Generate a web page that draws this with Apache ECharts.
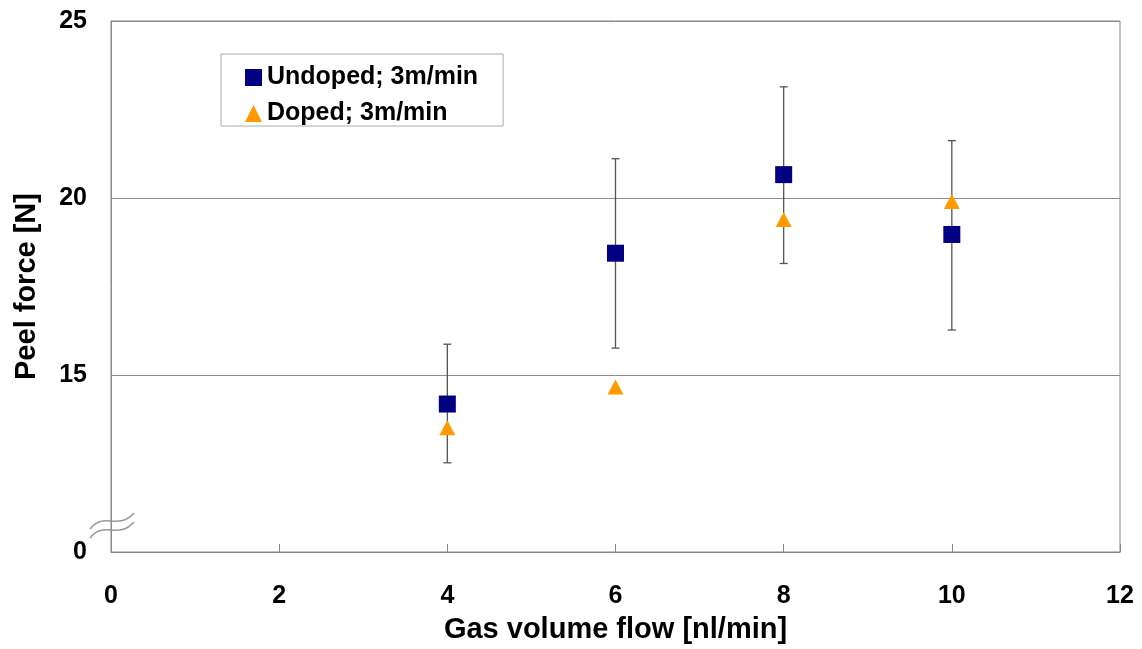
<!DOCTYPE html>
<html>
<head>
<meta charset="utf-8">
<script src="https://cdn.jsdelivr.net/npm/echarts@6/dist/echarts.min.js"></script>
<style>
  html, body { margin: 0; padding: 0; background: #fff; }
  #echarts { width: 1142px; height: 649px; }
</style>
</head>
<body>
<div id="echarts"></div>
<script>
// gas volume flow [nl/min]
var flowValues = [4, 6, 8, 10];
// peel force [N]
var undopedForce = [14.18, 18.44, 20.66, 18.97];
var undopedLow = [12.52, 15.76, 18.15, 16.27];
var undopedHigh = [15.87, 21.11, 23.14, 21.62];
var dopedForce = [13.51, 14.66, 19.39, 19.9];
// y axis is broken: the bottom tick is shown as "0"
var yTickLabels = { 10: '0', 15: '15', 20: '20', 25: '25' };
var xTicks = [0, 2, 4, 6, 8, 10, 12];

var fontName = '"Liberation Sans", Arial, sans-serif';

var undopedData = [];
var dopedData = [];
var errData = [];
flowValues.forEach(function (x, i) {
    undopedData.push([x, undopedForce[i]]);
    dopedData.push([x, dopedForce[i]]);
    errData.push([x, undopedLow[i], undopedHigh[i]]);
});

var myChart = echarts.init(document.getElementById('echarts'));

var option = {
    backgroundColor: '#fff',
    animation: false,
    textStyle: { fontFamily: fontName },
    grid: {
        left: 111,
        right: 22,
        top: 21,
        bottom: 94,
        show: true,
        borderColor: '#888',
        borderWidth: 1
    },
    legend: {
        data: ['Undoped; 3m/min', 'Doped; 3m/min'],
        orient: 'vertical',
        left: 221,
        top: 54,
        padding: [11, 25, 0, 24],
        itemGap: 11,
        itemWidth: 17,
        itemHeight: 17,
        backgroundColor: '#fff',
        borderColor: '#aaa',
        borderWidth: 1,
        textStyle: {
            fontFamily: fontName,
            fontSize: 25,
            fontWeight: 'bold',
            color: '#000',
            lineHeight: 24
        }
    },
    xAxis: {
        type: 'value',
        min: 0,
        max: 12,
        interval: 2,
        name: 'Gas volume flow [nl/min]',
        nameLocation: 'middle',
        nameGap: 63,
        nameTextStyle: { fontSize: 29, fontWeight: 'bold', color: '#000', fontFamily: fontName },
        axisLine: { lineStyle: { color: '#888', width: 1 } },
        axisTick: { inside: true, length: 8, lineStyle: { color: '#888' } },
        axisLabel: {
            fontSize: 25, fontWeight: 'bold', color: '#000', margin: 32,
            formatter: function (v) { return xTicks.indexOf(v) >= 0 ? String(v) : ''; }
        },
        splitLine: { show: false }
    },
    yAxis: {
        type: 'value',
        min: 10,
        max: 25,
        interval: 5,
        name: 'Peel force [N]',
        nameLocation: 'middle',
        nameGap: 70,
        nameTextStyle: { fontSize: 29, fontWeight: 'bold', color: '#000', fontFamily: fontName },
        axisLine: { show: true, lineStyle: { color: '#888', width: 1 } },
        axisTick: { show: false },
        axisLabel: {
            fontSize: 25, fontWeight: 'bold', color: '#000', margin: 24,
            formatter: function (v) { return yTickLabels[v] || ''; }
        },
        splitLine: { show: true, lineStyle: { color: '#8c8c8c', width: 1 } }
    },
    series: [
        {
            type: 'custom',
            name: 'err',
            z: 1,
            silent: true,
            data: errData,
            renderItem: function (params, api) {
                var x = api.value(0);
                var lo = api.coord([x, api.value(1)]);
                var hi = api.coord([x, api.value(2)]);
                var cap = 4;
                var st = { stroke: '#555', lineWidth: 1.3 };
                return {
                    type: 'group',
                    children: [
                        { type: 'line', shape: { x1: lo[0], y1: lo[1], x2: hi[0], y2: hi[1] }, style: st },
                        { type: 'line', shape: { x1: lo[0] - cap, y1: lo[1], x2: lo[0] + cap, y2: lo[1] }, style: st },
                        { type: 'line', shape: { x1: hi[0] - cap, y1: hi[1], x2: hi[0] + cap, y2: hi[1] }, style: st }
                    ]
                };
            }
        },
        {
            name: 'Undoped; 3m/min',
            type: 'scatter',
            z: 3,
            symbol: 'rect',
            symbolSize: 17,
            itemStyle: { color: '#000080', opacity: 1 },
            data: undopedData
        },
        {
            name: 'Doped; 3m/min',
            type: 'scatter',
            z: 4,
            symbol: 'triangle',
            symbolSize: [16, 15],
            itemStyle: { color: '#FF9900', opacity: 1 },
            data: dopedData
        }
    ]
};
myChart.setOption(option);

// axis break mark near the bottom of the y axis
var origin = myChart.convertToPixel({ xAxisIndex: 0, yAxisIndex: 0 }, [0, 10]);
function wave(cx, cy) {
    return {
        type: 'bezierCurve',
        shape: {
            x1: cx - 22, y1: cy + 8,
            cpx1: cx - 8, cpy1: cy - 10,
            cpx2: cx + 6, cpy2: cy + 10,
            x2: cx + 22, y2: cy - 8
        },
        style: { stroke: '#999', lineWidth: 1.5, fill: null },
        z: 10
    };
}
myChart.setOption({
    graphic: [
        wave(origin[0] + 1, origin[1] - 22),
        wave(origin[0] + 1, origin[1] - 31)
    ]
});
</script>
</body>
</html>
